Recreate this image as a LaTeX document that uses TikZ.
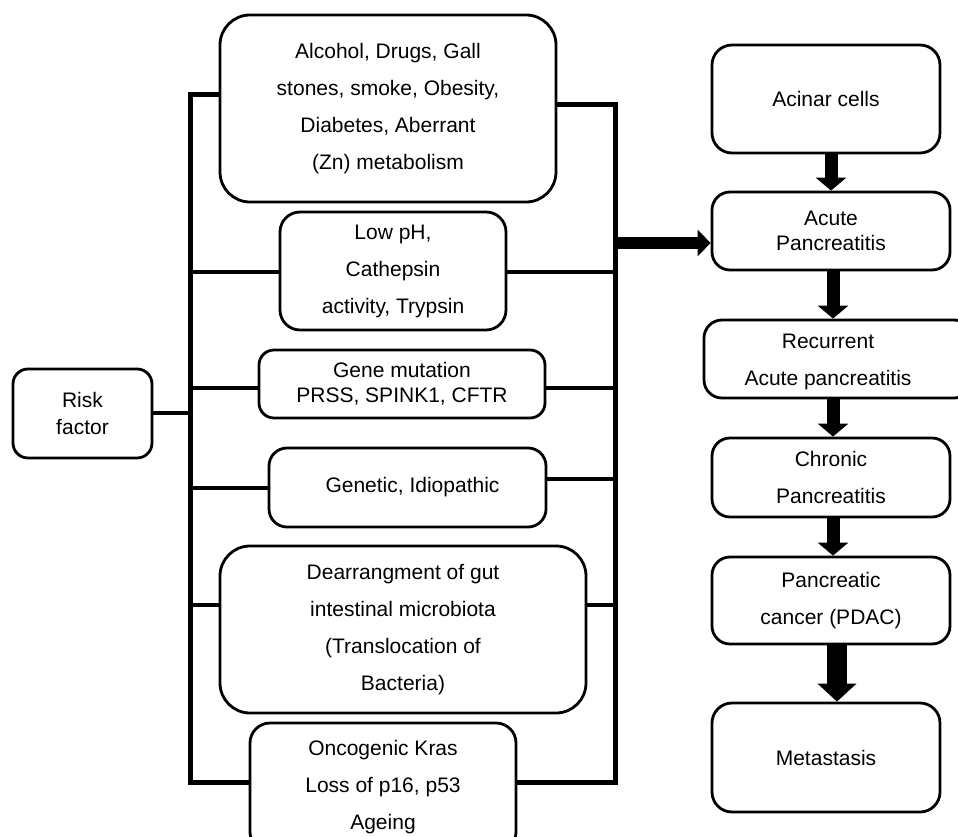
\documentclass[tikz,border=0pt]{standalone}
\usepackage{fontspec}
\setmainfont{Liberation Sans}
\usetikzlibrary{arrows.meta}
\tikzset{
  box/.style={draw, line width=2.8pt, inner sep=0pt, align=center, font=\fontsize{21}{37}\selectfont},
  tight/.style={font=\fontsize{21}{25}\selectfont},
  spine/.style={line width=5pt, line join=miter},
  branch/.style={line width=4.5pt},
  fatarrow/.style={line width=13pt, -{Triangle[width=30pt,length=13pt]}},
}
\begin{document}
\begin{tikzpicture}[x=1pt,y=-1pt]
\useasboundingbox (0,0) rectangle (958,837);
% left column boxes
\node[box, rounded corners=15pt, minimum width=139pt, minimum height=89pt, font=\fontsize{21}{27}\selectfont] (risk) at (82.5,413.5) {Risk\\factor};
\node[box, rounded corners=30pt, minimum width=336pt, minimum height=187pt] (b1) at (388,108.5) {Alcohol, Drugs, Gall\\stones, smoke, Obesity,\\Diabetes, Aberrant\\(Zn) metabolism};
\node[box, rounded corners=20pt, minimum width=226pt, minimum height=118pt] (b2) at (393,271) {Low pH,\\Cathepsin\\activity, Trypsin};
\node[box, tight, rounded corners=15pt, minimum width=286pt, minimum height=68pt] (b3) at (402,384) {Gene mutation\\PRSS, SPINK1, CFTR};
\node[box, rounded corners=18pt, minimum width=277pt, minimum height=79pt] (b4) at (407.5,487.5) {\hspace*{10pt}Genetic, Idiopathic};
\node[box, rounded corners=30pt, minimum width=366pt, minimum height=167pt] (b5) at (403,629.5) {Dearrangment of gut\\intestinal microbiota\\(Translocation of\\Bacteria)\hspace*{0pt}};
\node[box, rounded corners=20pt, minimum width=266pt, minimum height=129pt] (b6) at (383,787.5) {Oncogenic Kras\\Loss of p16, p53\\Ageing};
% right column boxes
\node[box, rounded corners=20pt, minimum width=228pt, minimum height=108pt] (acin) at (826,99) {Acinar cells};
\node[box, tight, rounded corners=18pt, minimum width=238pt, minimum height=78pt] (acute) at (831,231) {Acute\\Pancreatitis};
\node[box, rounded corners=18pt, minimum width=268pt, minimum height=78pt] (rec) at (838,359) {};
\node[align=center, inner sep=0pt, font=\fontsize{21}{37}\selectfont] (rectext) at (828,361.5) {Recurrent\\Acute pancreatitis};
\node[box, rounded corners=18pt, minimum width=238pt, minimum height=79pt] (chron) at (831,477.5) {Chronic\\Pancreatitis};
\node[box, rounded corners=18pt, minimum width=238pt, minimum height=87pt] (panc) at (831,600.5) {Pancreatic\\cancer (PDAC)};
\node[box, rounded corners=20pt, minimum width=228pt, minimum height=109pt] (meta) at (826,757.5) {Metastasis};
% left spine points
\coordinate (l1) at (190,95);
\coordinate (l2) at (190,272);
\coordinate (l3) at (190,388);
\coordinate (lr) at (190,413);
\coordinate (l4) at (190,488);
\coordinate (l5) at (190,605);
\coordinate (l6) at (190,782);
% right spine points
\coordinate (r1) at (615,105);
\coordinate (r2) at (615,272);
\coordinate (r3) at (615,388);
\coordinate (ra) at (615,243);
\coordinate (r4) at (615,479);
\coordinate (r5) at (615,605);
\coordinate (r6) at (615,782);
% spines
\draw[spine] (l1 -| b1.west) -- (l1) -- (l6) -- (l6 -| b6.west);
\draw[spine] (r1 -| b1.east) -- (r1) -- (r6) -- (r6 -| b6.east);
% branches
\draw[branch] (l2) -- (l2 -| b2.west);
\draw[branch] (l3) -- (l3 -| b3.west);
\draw[branch] (risk.east |- lr) -- (lr);
\draw[branch] (l4) -- (l4 -| b4.west);
\draw[branch] (l5) -- (l5 -| b5.west);
\draw[branch] (r2 -| b2.east) -- (r2);
\draw[branch] (r3 -| b3.east) -- (r3);
\draw[branch] (r4 -| b4.east) -- (r4);
\draw[branch] (r5 -| b5.east) -- (r5);
% arrows
\draw[line width=12pt, -{Triangle[width=26pt,length=13pt]}] (ra) -- (ra -| acute.west);
\draw[fatarrow] (acute.north |- acin.south) -- (acute.north);
\draw[fatarrow] ([xshift=2pt]acute.south) -- ([xshift=2pt]acute.south |- rec.north);
\draw[fatarrow] ([xshift=2pt]chron.north |- rec.south) -- ([xshift=2pt]chron.north);
\draw[fatarrow] ([xshift=2pt]chron.south) -- ([xshift=2pt]chron.south |- panc.north);
\draw[line width=20pt, -{Triangle[width=38pt,length=18pt]}] ([xshift=6pt]panc.south) -- ([xshift=6pt]panc.south |- meta.north);
\end{tikzpicture}
\end{document}
